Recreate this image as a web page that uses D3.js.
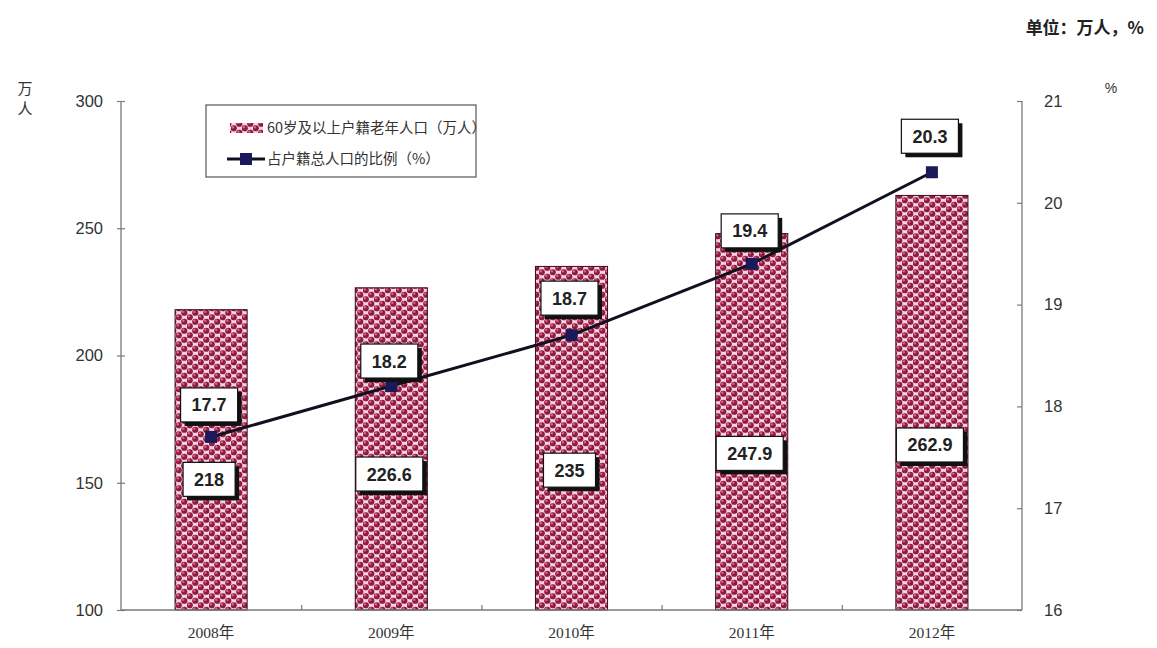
<!DOCTYPE html>
<html>
<head>
<meta charset="utf-8">
<script src="https://cdn.jsdelivr.net/npm/d3@7"></script>
<style>
  html, body { margin: 0; padding: 0; background: #fff; }
  svg { display: block; }
</style>
</head>
<body>
<div id="chart"></div>
<script>
// Beijing registered elderly population (60+) and share of total registered population
const years = ["2008年", "2009年", "2010年", "2011年", "2012年"];
const elderly = [218, 226.6, 235, 247.9, 262.9];      // 万人
const ratio = [17.7, 18.2, 18.7, 19.4, 20.3];         // %
const leftTicks = [100, 150, 200, 250, 300];
const rightTicks = [16, 17, 18, 19, 20, 21];
const seriesNames = ["60岁及以上户籍老年人口（万人）", "占户籍总人口的比例（%）"];
const unitTitle = "单位：万人，%";

// callout placement: fraction of bar height from its top, and px offset above each point
const barLabelAt = [0.565, 0.578, 0.593, 0.584, 0.602];
const ratioLabelDy = [-32, -25, -37, -33, -36];

const W = 1157, H = 648;
const plot = { left: 121, right: 1022, top: 101, bottom: 610 };
const axisColor = "#7a7a7a";
const tickFont = "'Liberation Sans', Arial, sans-serif";
const cjkFont = "'Noto Sans CJK SC', 'Liberation Sans', sans-serif";

const svg = d3.select("#chart").append("svg")
  .attr("width", W).attr("height", H);

// ---- bar fill: staggered dark-red beads on pink ----
const defs = svg.append("defs");
const pat = defs.append("pattern")
  .attr("id", "beads").attr("patternUnits", "userSpaceOnUse")
  .attr("width", 11).attr("height", 9);
pat.append("rect").attr("width", 11).attr("height", 9).attr("fill", "#f6d3df");
[[2.75, 2.25], [8.25, 6.75], [-2.75, 6.75], [13.75, 6.75], [2.75, 11.25], [8.25, -2.25]].forEach(([cx, cy]) => {
  pat.append("circle").attr("cx", cx).attr("cy", cy).attr("r", 3.1).attr("fill", "#8e1c40");
  pat.append("circle").attr("cx", cx - 0.9).attr("cy", cy - 1).attr("r", 1.2).attr("fill", "#dc6088");
});

// ---- scales ----
const x = d3.scaleBand().domain(years)
  .range([plot.left, plot.right]).paddingInner(0.6).paddingOuter(0.3);
const xEdge = d3.scaleLinear().domain([0, years.length]).range([plot.left, plot.right]);
const yL = d3.scaleLinear().domain([100, 300]).range([plot.bottom, plot.top]);
const yR = d3.scaleLinear().domain([16, 21]).range([plot.bottom, plot.top]);

// ---- bars ----
svg.append("g").selectAll("rect").data(elderly).join("rect")
  .attr("x", (d, i) => x(years[i]))
  .attr("y", d => yL(d))
  .attr("width", x.bandwidth())
  .attr("height", d => yL(100) - yL(d))
  .attr("fill", "url(#beads)")
  .attr("stroke", "#3c0a18").attr("stroke-width", 1);

// ---- axes ----
const gL = svg.append("g").attr("transform", `translate(${plot.left},0)`)
  .call(d3.axisLeft(yL).tickValues(leftTicks).tickSize(4).tickPadding(14).tickFormat(d3.format("d")));
gL.selectAll(".tick line").attr("x2", -4).attr("x1", 4);
const gR = svg.append("g").attr("transform", `translate(${plot.right},0)`)
  .call(d3.axisRight(yR).tickValues(rightTicks).tickSize(-5).tickPadding(22).tickFormat(d3.format("d")));
const gB = svg.append("g").attr("transform", `translate(0,${plot.bottom})`)
  .call(d3.axisBottom(xEdge).tickValues(d3.range(1, years.length)).tickSize(-5).tickFormat(""));
const gX = svg.append("g").attr("transform", `translate(0,${plot.bottom})`)
  .call(d3.axisBottom(x).tickSize(0).tickPadding(17));
gX.select(".domain").remove();

[gL, gR, gB].forEach(g => {
  g.select(".domain").attr("stroke", axisColor).attr("stroke-width", 1.3);
  g.selectAll(".tick line").attr("stroke", axisColor).attr("stroke-width", 1.2);
});
gL.select(".domain").attr("d", `M0,${plot.top}V${plot.bottom}`);
gR.select(".domain").attr("d", `M0,${plot.top}V${plot.bottom}`);
gB.select(".domain").attr("d", `M${plot.left},0H${plot.right}`);
[gL, gR].forEach(g => g.selectAll("text")
  .attr("font-family", tickFont).attr("font-size", 16.5).attr("fill", "#333"));
gX.selectAll("text")
  .attr("font-family", "'Liberation Serif', 'Noto Sans CJK SC', serif")
  .attr("font-size", 15.5).attr("fill", "#333");

// ---- ratio line ----
const cx = (i) => x(years[i]) + x.bandwidth() / 2;
const line = d3.line().x((d, i) => cx(i)).y(d => yR(d));
svg.append("path").datum(ratio)
  .attr("d", line).attr("fill", "none")
  .attr("stroke", "#101020").attr("stroke-width", 3);
svg.append("g").selectAll("rect").data(ratio).join("rect")
  .attr("x", (d, i) => cx(i) - 6).attr("y", d => yR(d) - 6)
  .attr("width", 12).attr("height", 12)
  .attr("fill", "#1a1a5a");

// ---- callout boxes ----
function callout(px, py, txt) {
  const g = svg.append("g");
  const t = g.append("text").text(txt)
    .attr("x", px).attr("y", py).attr("dy", "0.36em")
    .attr("text-anchor", "middle")
    .attr("font-family", tickFont).attr("font-weight", "bold")
    .attr("font-size", 18).attr("fill", "#222");
  const w = t.node().getComputedTextLength() + 22, h = 34;
  g.insert("rect", "text")
    .attr("x", px - w / 2 + 4).attr("y", py - h / 2 + 4)
    .attr("width", w).attr("height", h).attr("fill", "#111");
  g.insert("rect", "text")
    .attr("x", px - w / 2).attr("y", py - h / 2)
    .attr("width", w).attr("height", h)
    .attr("fill", "#fff").attr("stroke", "#111").attr("stroke-width", 1.2);
}
elderly.forEach((v, i) => {
  const top = yL(v), bottom = yL(100);
  callout(cx(i) - 2, top + (bottom - top) * barLabelAt[i], String(v));
});
ratio.forEach((v, i) => callout(cx(i) - 2, yR(v) + ratioLabelDy[i], v.toFixed(1)));

// ---- legend ----
const lg = svg.append("g");
lg.append("rect").attr("x", 206).attr("y", 105).attr("width", 270).attr("height", 72)
  .attr("fill", "#fff").attr("stroke", "#555").attr("stroke-width", 1.2);
lg.append("rect").attr("x", 230).attr("y", 123).attr("width", 33).attr("height", 10)
  .attr("fill", "url(#beads)");
lg.append("line").attr("x1", 227).attr("x2", 265).attr("y1", 159).attr("y2", 159)
  .attr("stroke", "#101020").attr("stroke-width", 3);
lg.append("rect").attr("x", 240).attr("y", 153).attr("width", 12).attr("height", 12)
  .attr("fill", "#1a1a5a");
lg.selectAll("text.item").data(seriesNames).join("text")
  .attr("class", "item")
  .attr("x", 267).attr("y", (d, i) => 128 + i * 31).attr("dy", "0.36em")
  .attr("font-family", cjkFont).attr("font-size", 14.5).attr("fill", "#333")
  .text(d => d);

// ---- unit captions ----
svg.append("text").text(unitTitle)
  .attr("x", 1144).attr("y", 34).attr("text-anchor", "end")
  .attr("font-family", cjkFont).attr("font-weight", "bold")
  .attr("font-size", 17).attr("fill", "#222");
svg.append("text").attr("font-family", cjkFont).attr("font-size", 15)
  .attr("fill", "#333").attr("text-anchor", "middle")
  .selectAll("tspan").data(["万", "人"]).join("tspan")
  .attr("x", 25).attr("y", (d, i) => 94 + i * 20).text(d => d);
svg.append("text").text("%")
  .attr("x", 1111).attr("y", 93).attr("text-anchor", "middle")
  .attr("font-family", tickFont).attr("font-size", 14).attr("fill", "#333");
</script>
</body>
</html>
